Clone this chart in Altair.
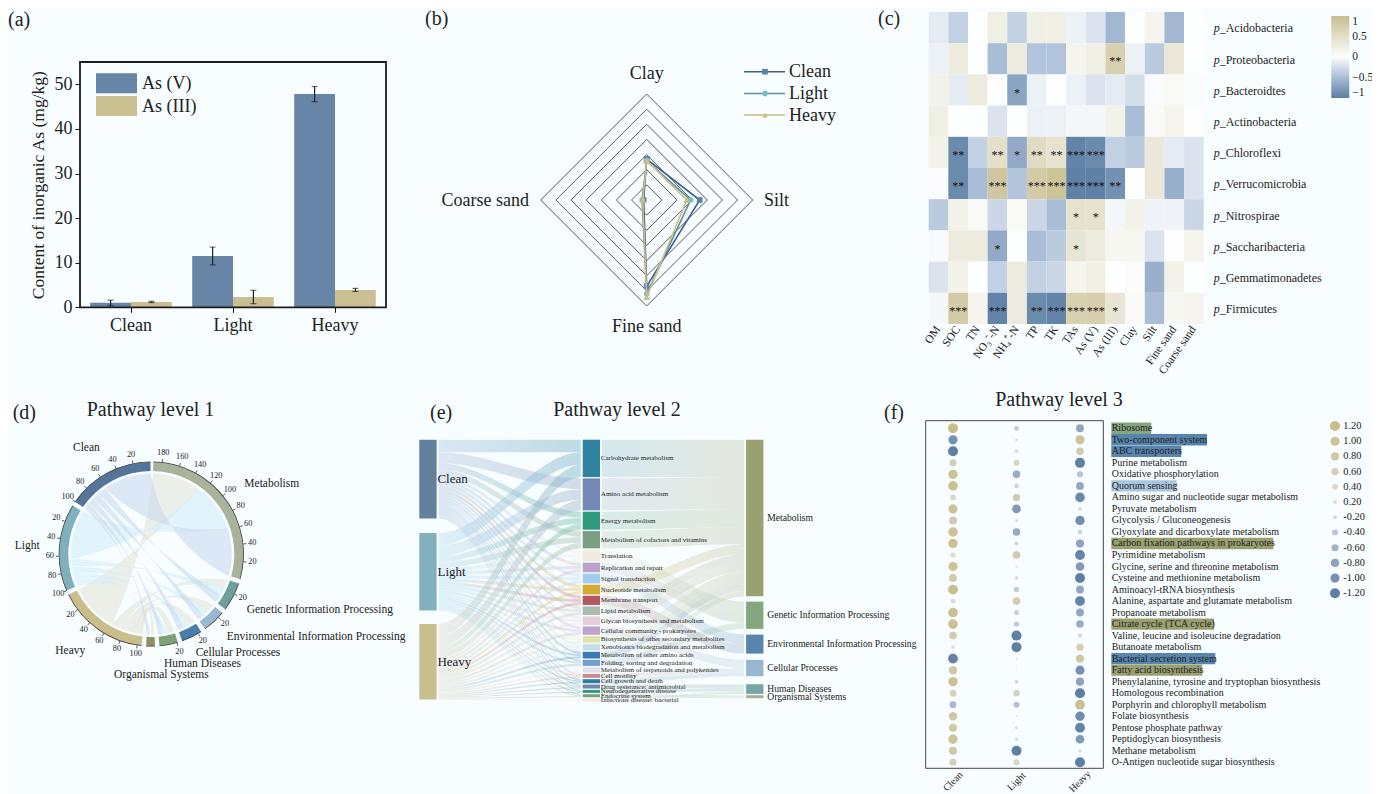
import math
import altair as alt
import pandas as pd

W, H = 1364, 786
OFF = 8
SERIF = "Liberation Serif"
INK = "#222222"

# ---------- (a) ----------
groups = ["Clean", "Light", "Heavy"]
species = ["As (V)", "As (III)"]
as_v = [1.0, 11.5, 47.8]
as_iii = [1.2, 2.3, 3.9]
as_v_err = [0.6, 2.0, 1.7]
as_iii_err = [0.15, 1.5, 0.35]
species_colors = ["#6685a7", "#c9bf91"]

# ---------- (b) ----------
radar_axes = ["Clay", "Silt", "Fine sand", "Coarse sand"]
radar_angles = [0, 90, 180, 270]
radar_clean = [27, 35, 57, 2]
radar_light = [26, 29, 62, 3]
radar_heavy = [26, 26.5, 64, 2.6]
radar_rings = [10, 20, 30, 40, 50, 60, 70]
radar_colors = ["#3d5f8e", "#5d8ba6", "#c8bd85"]
radar_marker_colors = ["#5a80ad", "#7cbcc6", "#c8bd85"]
radar_marker_sizes = [32, 32, 48]

# ---------- (c) ----------
env_vars = ["OM", "SOC", "TN", "NO₃⁻-N", "NH₄⁺-N", "TP", "TK", "TAs", "As (V)", "As (III)",
            "Clay", "Silt", "Fine sand", "Coarse sand"]
phyla = ["Acidobacteria", "Proteobacteria", "Bacteroidtes", "Actinobacteria", "Chloroflexi",
         "Verrucomicrobia", "Nitrospirae", "Saccharibacteria", "Gemmatimonadetes", "Firmicutes"]
corr = [
    [-0.15, -0.35, 0, 0.25, -0.35, 0.25, 0.25, -0.1, -0.2, -0.55, 0, 0.15, -0.55, 0],
    [-0.1, 0.3, 0, -0.5, 0.3, -0.45, -0.45, 0.15, 0.25, 0.7, -0.1, -0.4, 0.35, 0],
    [0.2, -0.15, 0.3, 0, -0.7, -0.1, 0, -0.1, -0.2, -0.15, -0.25, -0.02, 0.08, -0.02],
    [0.25, 0, 0, -0.2, 0, -0.1, -0.1, -0.05, -0.05, 0.2, -0.5, 0.05, 0.15, 0.02],
    [0.2, -0.9, -0.35, 0.5, -0.65, 0.55, 0.45, -0.95, -0.9, -0.35, -0.4, 0.35, -0.15, -0.2],
    [-0.02, -0.9, -0.5, 0.85, -0.45, 0.8, 0.9, -0.98, -0.98, -0.85, 0, 0.35, -0.6, -0.2],
    [-0.4, 0.2, 0.08, -0.3, 0.08, -0.3, -0.5, 0.45, 0.45, -0.05, 0.2, -0.08, -0.08, -0.3],
    [-0.03, 0.3, 0.3, -0.65, 0, -0.5, -0.4, 0.4, 0.3, 0.12, 0.12, -0.2, 0, 0.15],
    [-0.2, 0.2, 0, -0.35, 0.3, -0.35, -0.3, 0.15, 0.25, 0, 0.04, -0.6, 0.2, 0],
    [-0.05, 0.8, 0.15, -0.95, 0.3, -0.9, -0.95, 0.7, 0.75, 0.4, 0.05, -0.5, 0.1, 0.15],
]
stars = [
    ("Proteobacteria", "As (III)", "**"), ("Bacteroidtes", "NH₄⁺-N", "*"),
    ("Chloroflexi", "SOC", "**"), ("Chloroflexi", "NO₃⁻-N", "**"), ("Chloroflexi", "NH₄⁺-N", "*"),
    ("Chloroflexi", "TP", "**"), ("Chloroflexi", "TK", "**"), ("Chloroflexi", "TAs", "***"),
    ("Chloroflexi", "As (V)", "***"),
    ("Verrucomicrobia", "SOC", "**"), ("Verrucomicrobia", "NO₃⁻-N", "***"), ("Verrucomicrobia", "TP", "***"),
    ("Verrucomicrobia", "TK", "***"), ("Verrucomicrobia", "TAs", "***"), ("Verrucomicrobia", "As (V)", "***"),
    ("Verrucomicrobia", "As (III)", "**"),
    ("Nitrospirae", "TAs", "*"), ("Nitrospirae", "As (V)", "*"),
    ("Saccharibacteria", "NO₃⁻-N", "*"), ("Saccharibacteria", "TAs", "*"),
    ("Firmicutes", "SOC", "***"), ("Firmicutes", "NO₃⁻-N", "***"), ("Firmicutes", "TP", "**"),
    ("Firmicutes", "TK", "***"), ("Firmicutes", "TAs", "***"), ("Firmicutes", "As (V)", "***"),
    ("Firmicutes", "As (III)", "*"),
]

# ---------- (d) ----------
chord_sources = ["Clean", "Light", "Heavy"]
chord_targets = ["Metabolism", "Genetic", "Environmental", "Cellular", "Human", "Organismal"]
chord_flows = {
    "Clean": [63, 11, 9, 8, 6, 3],
    "Light": [64, 10, 9, 8, 6, 3],
    "Heavy": [63, 12, 9, 8, 9, 4],
}
ring_colors = {"Clean": "#55749a", "Light": "#7fb0bb", "Heavy": "#c9bd8a", "Metabolism": "#a9b39b",
               "Genetic": "#6f9f9a", "Environmental": "#9ab8d3", "Cellular": "#4a7eaa",
               "Human": "#7da276", "Organismal": "#8e9260"}
chord_fill = {"Clean": "#c9d8f0", "Light": "#d2ecfa", "Heavy": "#e4e5d8"}

# ---------- (e) ----------
left_nodes = ["Clean", "Light", "Heavy"]
left_colors = ["#64809f", "#82b1bd", "#c8bf8e"]
left_flow_colors = ["#b9cce6", "#bfe0f3", "#dcdcd0"]
left_gaps = [14.6, 13.4]
mid_nodes = ["Carbohydrate metabolism", "Amino acid metabolism", "Energy metabolism",
             "Metabolism of cofactors and vitamins", "Translation", "Replication and repair",
             "Signal transduction", "Nucleotide metabolism", "Membrane transport", "Lipid metabolism",
             "Glycan biosynthesis and metabolism", "Cellular community - prokaryotes",
             "Biosynthesis of other secondary metabolites", "Xenobiotics biodegradation and metabolism",
             "Metabolism of other amino acids", "Folding, sorting and degradation",
             "Metabolism of terpenoids and polyketides", "Cell motility", "Cell growth and death",
             "Drug resistance: antimicrobial", "Neurodegenerative disease", "Endocrine system",
             "Infectious disease: bacterial"]
mid_colors = ["#2f84a4", "#7189b4", "#2f9a7c", "#7a9f82", "#efeadf", "#bda3cb", "#a3cdf0", "#d3ab33",
              "#b45862", "#afbaae", "#e2cfd8", "#bda3cb", "#dee3ae", "#c2e0e6", "#3a7ab6", "#6f9fcf",
              "#dce1ee", "#c98a94", "#2b7f9e", "#6f87ad", "#2f9a7c", "#7a9f82", "#efeadf"]
mid_clean = [12.6, 10.8, 6.1, 5.9, 3.9, 3.3, 3.4, 3.3, 3.3, 2.9, 2.9, 2.8, 2.3, 2.1, 2.3, 2.0, 1.8, 1.4, 1.3, 1.4, 1.0, 1.0, 0.9]
mid_light = [12.5, 10.7, 6.0, 5.8, 3.9, 3.2, 3.3, 3.2, 3.1, 2.9, 2.9, 2.8, 2.2, 2.1, 2.2, 2.0, 1.8, 1.3, 1.4, 1.3, 1.0, 1.0, 0.9]
mid_heavy = [12.2, 10.5, 5.9, 5.6, 3.8, 3.2, 3.0, 3.1, 2.9, 2.9, 2.9, 2.7, 2.2, 2.1, 2.2, 2.0, 1.7, 1.3, 1.3, 1.3, 1.0, 1.0, 0.9]
mid_gap = 1.35
right_nodes = ["Metabolism", "Genetic Information Processing", "Environmental Information Processing",
               "Cellular Processes", "Human Diseases", "Organismal Systems"]
right_colors = ["#9aa06f", "#86a67f", "#5785ae", "#98b6d2", "#78a5a6", "#a9b095"]
right_gaps = [5.3, 5.7, 6.3, 8.0, 1.3]
mid_to_right = [0, 0, 0, 0, 1, 1, 2, 0, 2, 0, 0, 3, 0, 0, 0, 1, 0, 3, 3, 4, 4, 5, 4]

# ---------- (f) ----------
samples = ["Clean", "Light", "Heavy"]
pathways = ["Ribosome", "Two-component system", "ABC transporters", "Purine metabolism",
            "Oxidative phosphorylation", "Quorum sensing", "Amino sugar and nucleotide sugar metabolism",
            "Pyruvate metabolism", "Glycolysis / Gluconeogenesis", "Glyoxylate and dicarboxylate metabolism",
            "Carbon fixation pathways in prokaryotes", "Pyrimidine metabolism",
            "Glycine, serine and threonine metabolism", "Cysteine and methionine metabolism",
            "Aminoacyl-tRNA biosynthesis", "Alanine, aspartate and glutamate metabolism",
            "Propanoate metabolism", "Citrate cycle (TCA cycle)", "Valine, leucine and isoleucine degradation",
            "Butanoate metabolism", "Bacterial secretion system", "Fatty acid biosynthesis",
            "Phenylalanine, tyrosine and tryptophan biosynthesis", "Homologous recombination",
            "Porphyrin and chlorophyll metabolism", "Folate biosynthesis", "Pentose phosphate pathway",
            "Peptidoglycan biosynthesis", "Methane metabolism", "O-Antigen nucleotide sugar biosynthesis"]
dot_clean = [1.2, -1.0, -1.2, 0.6, 1.05, 1.1, 0.4, 1.0, 0.75, 1.05, 1.05, 0.3, 1.0, 0.75, 1.15, 0.3, 1.1, 1.1, 0.7, 0.15,
             -1.15, 0.85, 1.05, 0.55, -0.55, 0.85, 0.8, 1.05, 0.8, 0.6]
dot_light = [-0.3, -0.08, 0.2, 0.45, -0.7, -0.25, 0.65, -0.9, -0.1, -0.7, -0.2, 0.7, -0.05, 0.2, -0.35, 0.7, -0.3, -0.35, -1.2, -1.2,
             -0.02, -0.02, -0.2, 0.5, -0.45, -0.02, 0.12, -0.12, -1.2, 0.45]
dot_heavy = [-0.75, 1.0, 0.7, -1.2, -0.45, -0.75, -1.1, -0.18, -1.05, -0.25, -0.8, -1.15, -0.9, -1.2, -0.75, -1.15, -0.75, -0.7, 0.25, 0.65,
             0.85, -1.0, -0.8, -1.2, 1.15, -1.05, -1.15, -0.9, 0.15, -1.2]
highlights = ["Ribosome", "Two-component system", "ABC transporters", "Quorum sensing",
              "Carbon fixation pathways in prokaryotes", "Citrate cycle (TCA cycle)",
              "Bacterial secretion system", "Fatty acid biosynthesis"]
highlight_widths = [40, 95.7, 70, 65.3, 162, 102.7, 104, 91]
highlight_colors = ["#86a67f", "#5785ae", "#5785ae", "#a9c6e0", "#9aa06f", "#9aa06f", "#5785ae", "#9aa06f"]
dot_legend = [1.2, 1.0, 0.8, 0.6, 0.4, 0.2, -0.2, -0.4, -0.6, -0.8, -1.0, -1.2]
dot_scale_domain = [-1.2, -0.6, -0.2, 0.2, 0.6, 1.2]
dot_scale_range = ["#5f7fa6", "#a3b3cc", "#d0d8e6", "#dedfda", "#d3cfb8", "#c9bd8a"]


def note(text, x, y, size=18, align="left", color=INK, style=None, angle=None, weight=None):
    kw = dict(text=text, fontSize=size, align=align, baseline="middle", font=SERIF, color=color)
    if style:
        kw["fontStyle"] = style
    if angle is not None:
        kw["angle"] = angle
    if weight:
        kw["fontWeight"] = weight
    return alt.Chart().mark_text(**kw).encode(x=alt.value(x - OFF), y=alt.value(y - OFF))


def box(x1, y1, x2, y2, fill=None, stroke=None, sw=1.0):
    kw = dict(fill=fill or "transparent")
    if stroke:
        kw.update(stroke=stroke, strokeWidth=sw)
    return alt.Chart().mark_rect(**kw).encode(
        x=alt.value(x1 - OFF), x2=alt.value(x2 - OFF), y=alt.value(y1 - OFF), y2=alt.value(y2 - OFF))


def hline(x1, x2, y, color, sw=1.5):
    return alt.Chart().mark_rule(color=color, strokeWidth=sw).encode(
        x=alt.value(x1 - OFF), x2=alt.value(x2 - OFF), y=alt.value(y - OFF))


def axis_font(**kw):
    return dict(labelFont=SERIF, titleFont=SERIF, labelColor=INK, titleColor=INK, titleFontWeight="normal", **kw)


def mix(c, t=0.5):
    r, g, b = int(c[1:3], 16), int(c[3:5], 16), int(c[5:7], 16)
    return "#%02x%02x%02x" % tuple(round(v + (255 - v) * t) for v in (r, g, b))


# ============ panel a ============
rows = []
for i, g in enumerate(groups):
    rows.append(dict(group=g, sp=species[0], v=as_v[i], lo=as_v[i] - as_v_err[i], hi=as_v[i] + as_v_err[i]))
    rows.append(dict(group=g, sp=species[1], v=as_iii[i], lo=as_iii[i] - as_iii_err[i], hi=as_iii[i] + as_iii_err[i]))
adf = pd.DataFrame(rows)
ax_x = alt.X("group:N", title=None, sort=groups,
             scale=alt.Scale(domain=groups, range=[72, 378], paddingInner=0.2, paddingOuter=0.1),
             axis=alt.Axis(orient="bottom", offset=-(H - 299.3), labelAngle=0, labelFontSize=18, labelPadding=4, tickSize=5,
                           tickColor="#111", domain=False, **axis_font()))
ax_y = alt.Y("v:Q", scale=alt.Scale(domain=[0, 55], range=[299.3, 54], nice=False),
             axis=alt.Axis(orient="left", offset=-72, values=[0, 10, 20, 30, 40, 50], title="Content of inorganic As (mg/kg)",
                           labelFontSize=18, titleFontSize=17.5, tickSize=5, tickColor="#111", domain=False, labelPadding=3,
                           titlePadding=7, **axis_font()))
off = alt.XOffset("sp:N", sort=species, scale=alt.Scale(domain=species))
bars = alt.Chart(adf).mark_bar().encode(
    x=ax_x, y=ax_y, xOffset=off,
    color=alt.Color("sp:N", scale=alt.Scale(domain=species, range=species_colors), legend=None))
err = alt.Chart(adf).mark_rule(color="#222", strokeWidth=1.2).encode(
    x=alt.X("group:N", sort=groups), xOffset=off, y=alt.Y("lo:Q"), y2="hi:Q")
cap_lo = alt.Chart(adf).mark_tick(orient="horizontal", size=6, thickness=1.1, color="#222").encode(
    x=alt.X("group:N", sort=groups), xOffset=off, y=alt.Y("lo:Q"))
cap_hi = alt.Chart(adf).mark_tick(orient="horizontal", size=6, thickness=1.1, color="#222").encode(
    x=alt.X("group:N", sort=groups), xOffset=off, y=alt.Y("hi:Q"))
panel_a = alt.layer(
    bars, err, cap_lo, cap_hi,
    box(80, 62, 386, 307.3, stroke="#1c1c1c", sw=1.8),
    box(96, 73.3, 137, 93.3, fill=species_colors[0]),
    box(96, 96, 137, 116, fill=species_colors[1]),
    note(species[0], 142, 84, 18), note(species[1], 142, 106.5, 18),
    note("(a)", 8, 20, 20),
)

# ============ panel b ============
RCX, RCY, RR = 646.7, 200, 106
rx = alt.Scale(domain=[-70, 70], range=[RCX - RR - OFF, RCX + RR - OFF], nice=False, zero=False)
ry = alt.Scale(domain=[-70, 70], range=[RCY + RR - OFF, RCY - RR - OFF], nice=False, zero=False)


def polar(v, a):
    return v * math.sin(math.radians(a)), v * math.cos(math.radians(a))


ring_rows = []
for r in radar_rings:
    for i, a in enumerate(radar_angles + [360]):
        px_, py_ = polar(r, a)
        ring_rows.append(dict(ring=r, i=i, x=px_, y=py_))
rings = alt.Chart(pd.DataFrame(ring_rows)).mark_line(color="#5a5a5a", strokeWidth=1).encode(
    x=alt.X("x:Q", scale=rx, axis=None), y=alt.Y("y:Q", scale=ry, axis=None),
    detail="ring:N", order="i:Q")
spoke_layers = []
marker_shapes = ["square", "circle", "triangle-up"]
series = [radar_clean, radar_light, radar_heavy]
for k, vals in enumerate(series):
    pts = []
    for i, a in enumerate(radar_angles + [360]):
        v = vals[i % 4]
        px_, py_ = polar(v, a)
        pts.append(dict(i=i, x=px_, y=py_))
    d = pd.DataFrame(pts)
    spoke_layers.append(alt.Chart(d).mark_line(color=radar_colors[k], strokeWidth=1.6).encode(
        x=alt.X("x:Q", scale=rx, axis=None), y=alt.Y("y:Q", scale=ry, axis=None), order="i:Q"))
    spoke_layers.append(alt.Chart(d).mark_point(shape=marker_shapes[k], filled=True, size=radar_marker_sizes[k], opacity=1,
                                                color=radar_marker_colors[k]).encode(
        x=alt.X("x:Q", scale=rx, axis=None), y=alt.Y("y:Q", scale=ry, axis=None)))
b_legend = []
for k, name in enumerate(groups):
    yy = 71.7 + 21.7 * k
    b_legend.append(hline(744, 785, yy, radar_colors[k], 1.5))
    b_legend.append(alt.Chart().mark_point(shape=marker_shapes[k], filled=True, size=32, opacity=1,
                                           color=radar_marker_colors[k]).encode(
        x=alt.value(765 - OFF), y=alt.value(yy - OFF)))
    b_legend.append(note(name, 789, yy + 0.5, 18))
panel_b = alt.layer(
    rings, *spoke_layers, *b_legend,
    note("Clay", 646.7, 73.5, 18, "center"), note("Silt", 764, 200.5, 18),
    note("Fine sand", 646.7, 327, 18, "center"), note("Coarse sand", 529, 200.5, 18, "right"),
    note("(b)", 425, 18.5, 20),
)

# ============ panel c ============
hdf = pd.DataFrame([dict(phy=p, var=v, r=corr[i][j]) for i, p in enumerate(phyla) for j, v in enumerate(env_vars)])
sdf = pd.DataFrame(stars, columns=["phy", "var", "s"])
cx_scale = alt.Scale(domain=env_vars, range=[928.7 - OFF, 1203.7 - OFF], paddingInner=0, paddingOuter=0)
cy_scale = alt.Scale(domain=phyla, range=[12 - OFF, 324 - OFF], paddingInner=0, paddingOuter=0)
heat = alt.Chart(hdf).mark_rect().encode(
    x=alt.X("var:N", sort=env_vars, scale=cx_scale, title=None,
            axis=alt.Axis(orient="bottom", offset=-(H - 316), labelAngle=305, labelAlign="right", labelBaseline="middle",
                          labelFontSize=11.5, labelPadding=3, tickSize=0, domain=False, labelOverlap=False, **axis_font())),
    y=alt.Y("phy:N", sort=phyla, scale=cy_scale, axis=None),
    color=alt.Color("r:Q", scale=alt.Scale(domain=[-1, -0.5, 0, 0.5, 1], interpolate="rgb",
                                           range=["#5b7ea3", "#a9bdd7", "#fdfefe", "#e3dfc9", "#c8bd8e"]),
                    legend=alt.Legend(orient="none", legendX=1331.3 - OFF, legendY=16 - OFF, title=None, gradientLength=82,
                                      gradientThickness=18, values=[-1, -0.5, 0, 0.5, 1], format="~g", labelFont=SERIF,
                                      labelFontSize=11.5, labelColor=INK, labelOverlap=False, labelOffset=3)))
star_text = alt.Chart(sdf).mark_text(font=SERIF, fontSize=12, dy=2.5, color="#111111", baseline="middle").encode(
    x=alt.X("var:N", sort=env_vars), y=alt.Y("phy:N", sort=phyla), text="s:N")
pdf = pd.DataFrame(dict(phy=phyla, rest=["_" + p for p in phyla], p=["p"] * len(phyla)))
p_text = alt.Chart(pdf).mark_text(font=SERIF, fontSize=12, fontStyle="italic", align="left", color=INK, dy=0.8).encode(
    x=alt.value(1213.7 - OFF), y=alt.Y("phy:N", sort=phyla), text="p:N")
rest_text = alt.Chart(pdf).mark_text(font=SERIF, fontSize=12, align="left", color=INK, dy=0.8).encode(
    x=alt.value(1219.7 - OFF), y=alt.Y("phy:N", sort=phyla), text="rest:N")
panel_c = alt.layer(heat, star_text, p_text, rest_text, note("(c)", 878, 18.5, 20))

# ============ panel d ============
DCX, DCY = 151.3, 554.0
DEG = 0.55
GAP = 2.84
order = ["Clean", "Light", "Heavy", "Organismal", "Human", "Cellular", "Environmental", "Genetic", "Metabolism"]
totals = {s: sum(chord_flows[s]) for s in chord_sources}
for j, t in enumerate(chord_targets):
    totals[t] = sum(chord_flows[s][j] for s in chord_sources)
sector = {}
a_now = 359.5
for name in order:
    hi_ = a_now
    lo_ = hi_ - totals[name] * DEG
    sector[name] = (hi_, lo_)
    a_now = lo_ - GAP

dxs = alt.Scale(domain=[-110, 110], range=[DCX - 110 - OFF, DCX + 110 - OFF], nice=False, zero=False)
dys = alt.Scale(domain=[-110, 110], range=[DCY + 110 - OFF, DCY - 110 - OFF], nice=False, zero=False)
theta_scale = alt.Scale(domain=[0, 360], range=[0, 2 * math.pi])

sec_df = pd.DataFrame([dict(name=n, a1=sector[n][1], a2=sector[n][0], c=ring_colors[n]) for n in order])
ring = alt.Chart(sec_df).mark_arc(radius=92, radius2=83).encode(
    x=alt.value(DCX - OFF), y=alt.value(DCY - OFF),
    theta=alt.Theta("a1:Q", scale=theta_scale, stack=None), theta2="a2:Q", color=alt.Color("c:N", scale=None))
ring_edge = alt.Chart(sec_df).mark_arc(radius=92.6, radius2=91.8, color="#3a3a3a").encode(
    x=alt.value(DCX - OFF), y=alt.value(DCY - OFF),
    theta=alt.Theta("a1:Q", scale=theta_scale, stack=None), theta2="a2:Q")

tick_rows = []
for n in order:
    hi_, _ = sector[n]
    step_total = totals[n]
    v = 20
    while v <= step_total:
        a = hi_ - v * DEG
        x1, y1 = polar(92.5, a)
        x2, y2 = polar(95.5, a)
        x3, y3 = polar(101.5, a)
        tick_rows.append(dict(x1=x1, y1=y1, x2=x2, y2=y2, x3=x3, y3=y3, t=str(v)))
        v += 20
tdf = pd.DataFrame(tick_rows)
d_ticks = alt.Chart(tdf).mark_rule(color="#333", strokeWidth=0.8).encode(
    x=alt.X("x1:Q", scale=dxs, axis=None), y=alt.Y("y1:Q", scale=dys, axis=None), x2="x2:Q", y2="y2:Q")
d_tick_text = alt.Chart(tdf).mark_text(font=SERIF, fontSize=8.3, color=INK).encode(
    x=alt.X("x3:Q", scale=dxs, axis=None), y=alt.Y("y3:Q", scale=dys, axis=None), text="t:N")


def chord_path(cid, a1, a2, b1, b2, r=80.5, n_arc=10, n_bez=22, pull=0.35):
    pts = []

    def arc(u, v):
        for i in range(n_arc + 1):
            pts.append(polar(r, u + (v - u) * i / n_arc))

    def bez(u, v):
        p0 = polar(r, u)
        p2 = polar(r, v)
        cx_ = (p0[0] + p2[0]) / 2 * pull
        cy_ = (p0[1] + p2[1]) / 2 * pull
        for i in range(1, n_bez):
            t = i / n_bez
            pts.append(((1 - t) ** 2 * p0[0] + 2 * t * (1 - t) * cx_ + t * t * p2[0],
                        (1 - t) ** 2 * p0[1] + 2 * t * (1 - t) * cy_ + t * t * p2[1]))

    arc(a1, a2)
    bez(a2, b1)
    arc(b1, b2)
    bez(b2, a1)
    return [dict(cid=cid, i=i, x=p[0], y=p[1]) for i, p in enumerate(pts)]


pos_s = {s: sector[s][0] for s in chord_sources}
pos_t = {t: sector[t][0] for t in chord_targets}
chord_rows = {s: [] for s in chord_sources}
for s in chord_sources:
    for j, t in enumerate(chord_targets):
        v = chord_flows[s][j] * DEG
        a1 = pos_s[s]
        a2 = a1 - v
        pos_s[s] = a2
        b1 = pos_t[t]
        b2 = b1 - v
        pos_t[t] = b2
        chord_rows[s] += chord_path(f"{s}-{t}", a1, a2, b2, b1)
chord_layers = []
for s in ["Heavy", "Light", "Clean"]:
    chord_layers.append(alt.Chart(pd.DataFrame(chord_rows[s])).mark_line(
        fill=chord_fill[s], fillOpacity=0.6, strokeOpacity=0, strokeWidth=0).encode(
        x=alt.X("x:Q", scale=dxs, axis=None), y=alt.Y("y:Q", scale=dys, axis=None),
        detail="cid:N", order="i:Q"))
panel_d = alt.layer(
    *chord_layers, ring, ring_edge, d_ticks, d_tick_text,
    note("Clean", 73, 448, 11.5), note("Metabolism", 244.3, 484, 11.5), note("Light", 14.7, 546, 11.5),
    note("Genetic Information Processing", 246.7, 610, 11.5),
    note("Environmental Information Processing", 226.7, 637, 11.5),
    note("Cellular Processes", 195.7, 653, 11.5), note("Human Diseases", 164, 664, 11.5),
    note("Organismal Systems", 114, 674.5, 11.5), note("Heavy", 55.3, 651, 11.5),
    note("Pathway level 1", 150.5, 410, 20, "center"), note("(d)", 12.7, 413, 20),
)

# ============ panel e ============
sx = alt.Scale(domain=[0, 2], range=[419.3 - OFF, 419.3 - OFF + 2 * 163.4], nice=False, zero=False)
sy = alt.Scale(domain=[0, 262], range=[439.7 - OFF, 701.7 - OFF], nice=False, zero=False)
NODE_W = 0.106

shares = [mid_clean, mid_light, mid_heavy]
mid_vals = [sum(sh[i] for sh in shares) for i in range(len(mid_nodes))]
left_vals = [sum(sh) for sh in shares]
right_vals = [sum(v for v, r in zip(mid_vals, mid_to_right) if r == k) for k in range(len(right_nodes))]

left_pos, y_now = [], 0.0
for i, v in enumerate(left_vals):
    left_pos.append(y_now)
    y_now += v + (left_gaps[i] if i < len(left_gaps) else 0)
mid_pos, y_now = [], 0.0
for v in mid_vals:
    mid_pos.append(y_now)
    y_now += v + mid_gap
right_pos, y_now = [], 0.0
for i, v in enumerate(right_vals):
    right_pos.append(y_now)
    y_now += v + (right_gaps[i] if i < len(right_gaps) else 0)


def smooth(t):
    return t * t * (3 - 2 * t)


def flow(x0, x1, y0a, y1a, th, c0, c1, op):
    n = 18
    rows_ = []
    for i in range(n + 1):
        t = i / n
        s_ = smooth(t)
        yy = y0a + (y1a - y0a) * s_
        rows_.append(dict(x=x0 + (x1 - x0) * t, y=yy, y2=yy + th))
    grad = alt.Gradient(gradient="linear", x1=0, x2=1, y1=0, y2=0,
                        stops=[alt.GradientStop(offset=0, color=c0), alt.GradientStop(offset=1, color=c1)])
    return alt.Chart(pd.DataFrame(rows_)).mark_area(color=grad, fillOpacity=op).encode(
        x=alt.X("x:Q", scale=sx, axis=None), y=alt.Y("y:Q", scale=sy, axis=None, stack=None), y2="y2:Q")


flows = []
ptr_left = list(left_pos)
ptr_mid = list(mid_pos)
for k in range(3):
    for i in range(len(mid_nodes)):
        th = shares[k][i]
        flows.append(flow(NODE_W + 0.012, 1 - 0.012, ptr_left[k], ptr_mid[i], th, left_flow_colors[k], mix(mid_colors[i], 0.35), 0.45))
        ptr_left[k] += th
        ptr_mid[i] += th
ptr_right = list(right_pos)
for i in range(len(mid_nodes)):
    r = mid_to_right[i]
    flows.append(flow(1 + NODE_W + 0.012, 2 - 0.012, mid_pos[i], ptr_right[r], mid_vals[i], mix(mid_colors[i], 0.45), mix(right_colors[r], 0.3), 0.32))
    ptr_right[r] += mid_vals[i]

node_rows = []
for i, n in enumerate(left_nodes):
    node_rows.append(dict(n=n, x=0, x2=NODE_W, y=left_pos[i], y2=left_pos[i] + left_vals[i], c=left_colors[i]))
for i, n in enumerate(mid_nodes):
    node_rows.append(dict(n=n, x=1, x2=1 + NODE_W, y=mid_pos[i], y2=mid_pos[i] + mid_vals[i], c=mid_colors[i]))
for i, n in enumerate(right_nodes):
    node_rows.append(dict(n=n, x=2, x2=2 + NODE_W, y=right_pos[i], y2=right_pos[i] + right_vals[i], c=right_colors[i]))
ndf = pd.DataFrame(node_rows)
ndf["ym"] = (ndf.y + ndf.y2) / 2
ndf["xl"] = ndf.x2 + 0.005
e_nodes = alt.Chart(ndf).mark_rect().encode(
    x=alt.X("x:Q", scale=sx, axis=None), x2="x2:Q",
    y=alt.Y("y:Q", scale=sy, axis=None), y2="y2:Q", color=alt.Color("c:N", scale=None))
e_left = alt.Chart(ndf[ndf.x == 0]).mark_text(font=SERIF, fontSize=13, align="left", color=INK).encode(
    x=alt.X("xl:Q", scale=sx, axis=None), y=alt.Y("ym:Q", scale=sy, axis=None), text="n:N")
e_mid = alt.Chart(ndf[ndf.x == 1]).mark_text(font=SERIF, fontSize=7, align="left", color=INK).encode(
    x=alt.X("xl:Q", scale=sx, axis=None), y=alt.Y("ym:Q", scale=sy, axis=None), text="n:N")
e_right = alt.Chart(ndf[ndf.x == 2]).mark_text(font=SERIF, fontSize=9.6, align="left", dx=3, color=INK).encode(
    x=alt.X("xl:Q", scale=sx, axis=None), y=alt.Y("ym:Q", scale=sy, axis=None), text="n:N")
panel_e = alt.layer(*flows, e_nodes, e_left, e_mid, e_right,
                    note("Pathway level 2", 617, 410, 20, "center"), note("(e)", 430, 413, 20))

# ============ panel f ============
fdf = pd.DataFrame([dict(path=p, sample=s, v=vals[i], s=abs(vals[i]))
                    for s, vals in zip(samples, [dot_clean, dot_light, dot_heavy]) for i, p in enumerate(pathways)])
fx = alt.Scale(type="point", domain=samples, range=[953 - OFF, 1080 - OFF], padding=0)
fy = alt.Scale(type="point", domain=pathways, range=[428.3 - OFF, 762.3 - OFF], padding=0)
size_sc = alt.Scale(domain=[0, 1.2], range=[0, 100])
color_sc = alt.Scale(domain=dot_scale_domain, range=dot_scale_range, interpolate="rgb")
dots = alt.Chart(fdf).mark_circle(opacity=1).encode(
    x=alt.X("sample:N", sort=samples, scale=fx, axis=None),
    y=alt.Y("path:N", sort=pathways, scale=fy, axis=None),
    size=alt.Size("s:Q", scale=size_sc, legend=None),
    color=alt.Color("v:Q", scale=color_sc, legend=None))
lab_df = pd.DataFrame(dict(path=pathways))
f_labels = alt.Chart(lab_df).mark_text(font=SERIF, fontSize=10, align="left", color=INK).encode(
    x=alt.value(1111.7 - OFF), y=alt.Y("path:N", sort=pathways), text="path:N")
f_xlab_df = pd.DataFrame(dict(sample=samples))
f_xlabels = alt.Chart(f_xlab_df).mark_text(font=SERIF, fontSize=10, angle=315, color=INK).encode(
    x=alt.X("sample:N", sort=samples), y=alt.value(781.5 - OFF), text="sample:N")
panel_f_main = alt.layer(dots, f_labels, f_xlabels,
                         box(925.7, 420.7, 1103.3, 768.3, stroke="#444", sw=1),
                         note("Pathway level 3", 1059, 400, 20, "center"), note("(f)", 884, 413, 20))

hl_df = pd.DataFrame(dict(path=highlights, w=highlight_widths, c=highlight_colors))
panel_f_hl = alt.Chart(hl_df).mark_bar(size=11.4).encode(
    x=alt.X("w:Q", scale=alt.Scale(domain=[0, 200], range=[1111.3 - OFF, 1311.3 - OFF], nice=False), axis=None),
    y=alt.Y("path:N", sort=pathways, scale=fy, axis=None),
    color=alt.Color("c:N", scale=None))

leg_df = pd.DataFrame(dict(v=dot_legend, s=[abs(v) for v in dot_legend], lab=[f"{v:.2f}" for v in dot_legend]))
leg_df["k"] = leg_df.lab
leg_y = alt.Y("k:N", sort=list(leg_df.k), axis=None,
              scale=alt.Scale(type="point", domain=list(leg_df.k), range=[426 - OFF, 593.3 - OFF], padding=0))
panel_f_leg = alt.layer(
    alt.Chart(leg_df).mark_circle(opacity=1).encode(
        x=alt.value(1335 - OFF), y=leg_y,
        size=alt.Size("s:Q", scale=size_sc, legend=None),
        color=alt.Color("v:Q", scale=color_sc, legend=None)),
    alt.Chart(leg_df).mark_text(font=SERIF, fontSize=10.4, align="left", color=INK).encode(
        x=alt.value(1343.3 - OFF), y=leg_y, text="lab:N"),
)

chart = alt.layer(panel_a, panel_b, panel_c, panel_d, panel_e, panel_f_hl, panel_f_main, panel_f_leg).resolve_scale(
    x="independent", y="independent", color="independent", size="independent", theta="independent", xOffset="independent"
).properties(
    width=W, height=H, padding=0, autosize=alt.AutoSizeParams(type="none"), background="#f8feff"
).configure_view(stroke=None).configure_axis(grid=False)

chart.save("out.html", embed_options={"renderer": "svg", "actions": False})
